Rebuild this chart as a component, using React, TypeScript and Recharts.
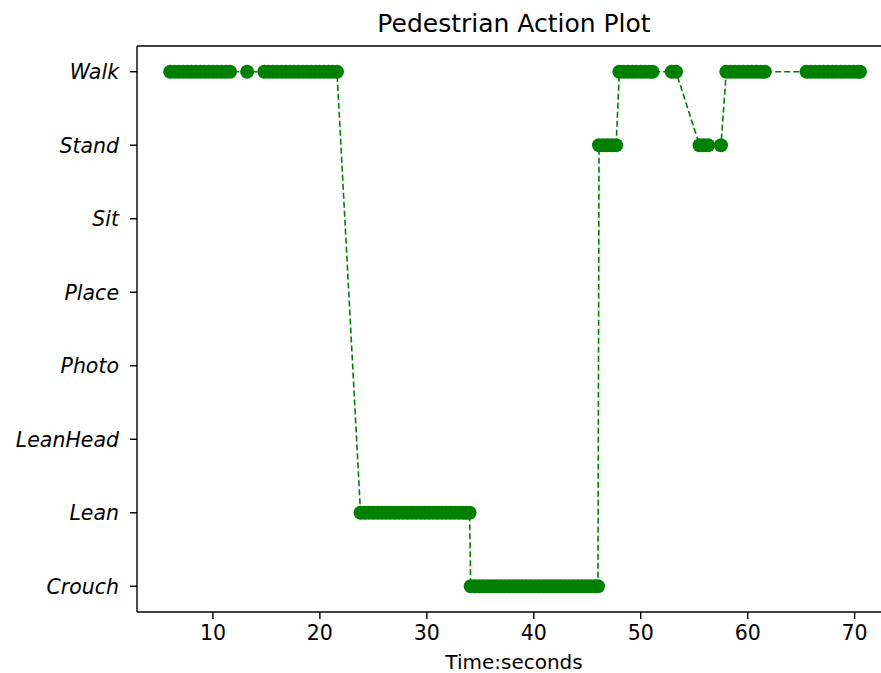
import React from 'react';
import { LineChart, Line, XAxis, YAxis, ReferenceLine } from 'recharts';

const actionLabels = ['Crouch', 'Lean', 'LeanHead', 'Photo', 'Place', 'Sit', 'Stand', 'Walk'];
const xTicks = [10, 20, 30, 40, 50, 60, 70];

const walk1aTimes = [6.0, 6.4, 6.8, 7.2, 7.6, 8.0, 8.4, 8.8, 9.2, 9.6, 10.0, 10.4, 10.8, 11.2, 11.6];
const walk1bTimes = [13.2];
const walk1cTimes = [14.8, 15.2, 15.6, 16.0, 16.4, 16.8, 17.2, 17.6, 18.0, 18.4, 18.8, 19.2, 19.6, 20.0, 20.4, 20.8, 21.2, 21.6];
const leanTimes = [23.8, 24.2, 24.6, 25.0, 25.4, 25.8, 26.2, 26.6, 27.0, 27.4, 27.8, 28.2, 28.6, 29.0, 29.4, 29.8, 30.2, 30.6, 31.0, 31.4, 31.8, 32.2, 32.6, 33.0, 33.4, 33.7, 34.0];
const crouchTimes = [34.1, 34.5, 34.9, 35.3, 35.7, 36.1, 36.5, 36.9, 37.3, 37.7, 38.1, 38.5, 38.9, 39.3, 39.7, 40.1, 40.5, 40.9, 41.3, 41.7, 42.1, 42.5, 42.9, 43.3, 43.7, 44.1, 44.5, 44.9, 45.3, 45.7, 46.0];
const stand1Times = [46.1, 46.5, 46.9, 47.3, 47.7];
const walk2Times = [48.0, 48.4, 48.8, 49.2, 49.6, 50.0, 50.4, 50.8, 51.1];
const walk2bTimes = [52.9, 53.3];
const stand2Times = [55.5, 55.9, 56.3, 57.5];
const walk3Times = [58.0, 58.4, 58.8, 59.2, 59.6, 60.0, 60.4, 60.8, 61.2, 61.6];
const walk4Times = [65.5, 65.9, 66.3, 66.7, 67.1, 67.5, 67.9, 68.3, 68.7, 69.1, 69.5, 69.9, 70.3, 70.5];

const segments: { action: string; times: number[] }[] = [
  { action: 'Walk', times: walk1aTimes },
  { action: 'Walk', times: walk1bTimes },
  { action: 'Walk', times: walk1cTimes },
  { action: 'Lean', times: leanTimes },
  { action: 'Crouch', times: crouchTimes },
  { action: 'Stand', times: stand1Times },
  { action: 'Walk', times: walk2Times },
  { action: 'Walk', times: walk2bTimes },
  { action: 'Stand', times: stand2Times },
  { action: 'Walk', times: walk3Times },
  { action: 'Walk', times: walk4Times },
];

const data = segments.flatMap((s) =>
  s.times.map((t) => ({ t, a: actionLabels.indexOf(s.action) }))
);

const FONT = '"DejaVu Sans", sans-serif';
const GREEN = '#008000';

export default function App() {
  return (
    <div
      style={{
        position: 'fixed',
        left: 0,
        top: 0,
        width: 881,
        height: 673,
        overflow: 'hidden',
        background: '#fff',
        fontFamily: FONT,
      }}
    >
      <div
        style={{
          position: 'absolute',
          left: 514 - 250,
          width: 500,
          top: 9,
          textAlign: 'center',
          fontSize: 25,
          lineHeight: '30px',
          color: '#000',
        }}
      >
        Pedestrian Action Plot
      </div>
      <LineChart
        width={900}
        height={673}
        data={data}
        margin={{ top: 46, right: 9, bottom: 0, left: 0 }}
      >
        <XAxis
          dataKey="t"
          type="number"
          domain={[2.9, 73.4]}
          ticks={xTicks}
          allowDataOverflow
          height={61}
          tickSize={7}
          tickMargin={6}
          stroke="#000"
          strokeWidth={1.4}
          tick={{ fill: '#000', fontSize: 20.5, fontFamily: FONT }}
        />
        <YAxis
          dataKey="a"
          type="number"
          domain={[-0.35, 7.35]}
          ticks={[0, 1, 2, 3, 4, 5, 6, 7]}
          allowDataOverflow
          width={137}
          tickSize={7}
          tickMargin={11}
          stroke="#000"
          strokeWidth={1.4}
          tickFormatter={(v: number) => actionLabels[v]}
          tick={{ fill: '#000', fontSize: 20.5, fontFamily: FONT, fontStyle: 'italic' }}
        />
        <ReferenceLine y={7.35} stroke="#000" strokeWidth={1.4} ifOverflow="visible" />
        <Line
          type="linear"
          dataKey="a"
          stroke={GREEN}
          strokeWidth={1.6}
          strokeDasharray="6 3"
          dot={{ r: 7, fill: GREEN, stroke: GREEN, strokeWidth: 0 }}
          activeDot={false}
          isAnimationActive={false}
        />
      </LineChart>
      <div
        style={{
          position: 'absolute',
          left: 514 - 200,
          width: 400,
          top: 652,
          height: 21,
          textAlign: 'center',
          fontSize: 20,
          lineHeight: '21px',
          color: '#000',
        }}
      >
        Time:seconds
      </div>
    </div>
  );
}
